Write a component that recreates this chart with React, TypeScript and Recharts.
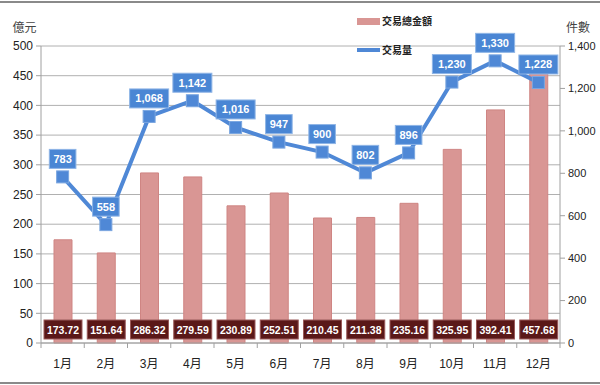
import React from 'react';
import { ComposedChart, Bar, Line, XAxis, YAxis, CartesianGrid, LabelList } from 'recharts';

const months = ['1月', '2月', '3月', '4月', '5月', '6月', '7月', '8月', '9月', '10月', '11月', '12月'];
const amounts = [173.72, 151.64, 286.32, 279.59, 230.89, 252.51, 210.45, 211.38, 235.16, 325.95, 392.41, 457.68];
const counts = [783, 558, 1068, 1142, 1016, 947, 900, 802, 896, 1230, 1330, 1228];
const leftTicks = [0, 50, 100, 150, 200, 250, 300, 350, 400, 450, 500];
const rightTicks = [0, 200, 400, 600, 800, 1000, 1200, 1400];

const data = months.map((m, i) => ({ month: m, amount: amounts[i], count: counts[i] }));

const FONT = '"Liberation Sans", Arial, "Noto Sans CJK TC", sans-serif';
const BAR = '#d99694';
const BLUE = '#4f88d6';

const fmt = (v: number) => v.toLocaleString('en-US');

const XTick = (props: any) => {
  const { x, y, payload, index } = props;
  const bw = (560 - 41) / 12;
  return (
    <g>
      <line x1={x - bw / 2} x2={x - bw / 2} y1={343} y2={348} stroke="#a0a0a0" />
      {index === 11 && <line x1={x + bw / 2} x2={x + bw / 2} y1={343} y2={348} stroke="#a0a0a0" />}
      <text x={x} y={y + 17} textAnchor="middle" fontSize={12} fontFamily={FONT} fill="#222">
        {payload.value}
      </text>
    </g>
  );
};

const LineLabel = (props: any) => {
  const { x, y, value } = props;
  const s = fmt(value);
  const w = s.length * 6.2 + 8;
  const h = 19;
  const cy = y - 18;
  return (
    <g>
      <rect x={x - w / 2} y={cy - h / 2} width={w} height={h} fill="#4a86d4" stroke="#8fb5e6" strokeWidth={1} />
      <text x={x} y={cy + 4} textAnchor="middle" fontSize={11} fontWeight={700} fontFamily={FONT} fill="#fff">
        {s}
      </text>
    </g>
  );
};

const BarLabel = (props: any) => {
  const { x, y, width, height, value } = props;
  const cx = x + width / 2;
  const bottom = y + height;
  const cy = bottom - 13.5;
  const w = 38;
  const h = 19;
  return (
    <g>
      <rect x={cx - w / 2} y={cy - h / 2} width={w} height={h} fill="#5a1818" stroke="#9a5a5a" strokeWidth={1} />
      <text x={cx} y={cy + 4} textAnchor="middle" fontSize={10.5} fontWeight={700} fontFamily={FONT} fill="#fff">
        {value.toFixed(2)}
      </text>
    </g>
  );
};

const SquareDot = (props: any) => {
  const { cx, cy } = props;
  if (cx == null || cy == null) return null;
  return <rect x={cx - 6} y={cy - 6} width={12} height={12} fill={BLUE} stroke="#7aa6e0" strokeWidth={1} />;
};

export default function App() {
  return (
    <div style={{ position: 'absolute', left: 0, top: 0, width: 600, height: 385, background: '#fff' }}>
      <div style={{ position: 'absolute', left: 0, top: 1, width: 600, height: 2, background: '#8a8a8a' }} />
      <div style={{ position: 'absolute', left: 0, top: 382, width: 600, height: 2, background: '#8a8a8a' }} />
      <ComposedChart
        width={600}
        height={385}
        data={data}
        margin={{ top: 46, right: 0, bottom: 12, left: 0 }}
        barCategoryGap={0}
      >
        <CartesianGrid yAxisId="left" vertical={false} stroke="#b0b0b0" strokeWidth={1} />
        <XAxis
          dataKey="month"
          height={30}
          tick={<XTick />}
          tickLine={false}
          axisLine={{ stroke: '#a0a0a0' }}
          interval={0}
        />
        <YAxis
          yAxisId="left"
          orientation="left"
          width={41}
          domain={[0, 500]}
          ticks={leftTicks}
          interval={0}
          tickSize={5}
          tickMargin={3}
          tick={{ fontSize: 12, fontFamily: FONT, fill: '#222' }}
          axisLine={{ stroke: '#a0a0a0' }}
          tickLine={{ stroke: '#a0a0a0' }}
          label={{ value: '億元', position: 'top', offset: 14, fontSize: 12, fontFamily: FONT, fill: '#444', dx: 4 }}
        />
        <YAxis
          yAxisId="right"
          orientation="right"
          width={40}
          domain={[0, 1400]}
          ticks={rightTicks}
          interval={0}
          tickSize={5}
          tickMargin={3}
          tickFormatter={(v: number) => fmt(v)}
          tick={{ fontSize: 11, fontFamily: FONT, fill: '#222' }}
          axisLine={{ stroke: '#a0a0a0' }}
          tickLine={{ stroke: '#a0a0a0' }}
          label={{ value: '件數', position: 'top', offset: 14, fontSize: 12, fontFamily: FONT, fill: '#444', dx: -2 }}
        />
        <Bar yAxisId="left" dataKey="amount" name="交易總金額" fill={BAR} stroke="#cf8583" barSize={18} isAnimationActive={false}>
          <LabelList dataKey="amount" content={<BarLabel />} />
        </Bar>
        <Line
          yAxisId="right"
          dataKey="count"
          name="交易量"
          stroke={BLUE}
          strokeWidth={4}
          dot={<SquareDot />}
          activeDot={false}
          isAnimationActive={false}
        >
          <LabelList dataKey="count" content={<LineLabel />} />
        </Line>
      </ComposedChart>
      <svg width={120} height={50} style={{ position: 'absolute', left: 355, top: 12 }}>
        <rect x={2} y={6} width={23} height={7} fill={BAR} />
        <text x={27} y={13} fontSize={10} fontWeight={700} fontFamily={FONT} fill="#222">交易總金額</text>
        <line x1={2} x2={25} y1={38} y2={38} stroke={BLUE} strokeWidth={4} />
        <text x={27} y={42} fontSize={10} fontWeight={700} fontFamily={FONT} fill="#222">交易量</text>
      </svg>
    </div>
  );
}
